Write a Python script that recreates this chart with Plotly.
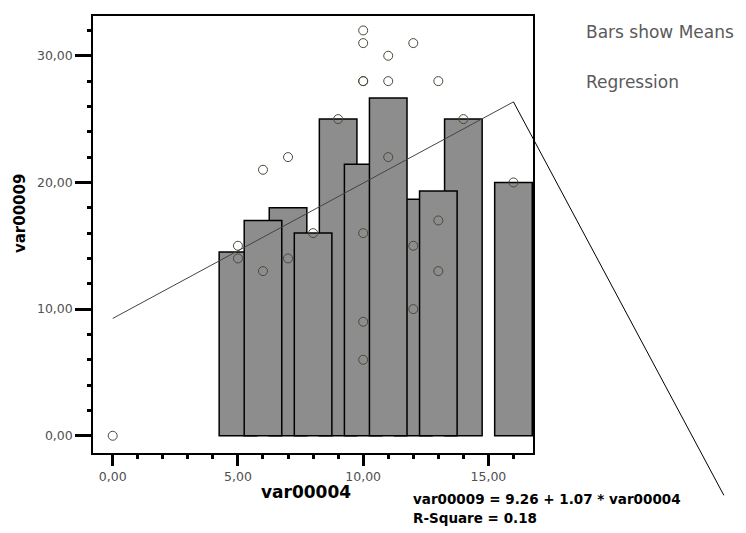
import numpy as np
import plotly.graph_objects as go

# ---------------- data ----------------
x_points = [0, 5, 5, 6, 6, 7, 7, 8, 9, 10, 10, 10, 10, 10, 10, 10,
            11, 11, 11, 12, 12, 12, 13, 13, 13, 14, 16]
y_points = [0, 15, 14, 21, 13, 22, 14, 16, 25, 32, 31, 28, 28, 16, 9, 6,
            30, 28, 22, 31, 15, 10, 28, 17, 13, 25, 20]

# bar categories in the order they are painted (later ones overlap earlier ones)
bar_categories = [5, 7, 9, 12, 14, 6, 8, 10, 11, 13, 16]
bar_width = 1.5

x_tick_values = [0, 5, 10, 15]
y_tick_values = [0, 10, 20, 30]

# odd end point of the regression path drawn by the original software
regression_tail_end = [24.4, -4.7]

x_title = "var00004"
y_title = "var00009"
legend_texts = ["Bars show Means", "Regression"]

# ---------------- derived ----------------
xp = np.array(x_points, dtype=float)
yp = np.array(y_points, dtype=float)
bar_means = [float(yp[xp == c].mean()) for c in bar_categories]

slope, intercept = np.polyfit(xp, yp, 1)
pred = intercept + slope * xp
r2 = 1 - ((yp - pred) ** 2).sum() / ((yp - yp.mean()) ** 2).sum()
reg_x = [float(xp.min()), float(xp.max())]
reg_y = [intercept + slope * v for v in reg_x]

# ---------------- layout geometry (page pixels) ----------------
W, H = 746, 533
OFF = 8                                # default body margin of the html page
L, R, T, B = 93, 533, 14, 453          # plot frame in page pixels
x_range = [-0.787, 16.78]
y_range = [-1.36, 33.14]


def px_x(px):
    return (px - L) / (R - L)


def px_y(py):
    return (B - py) / (B - T)


def data_to_paper(x, y):
    return ((x - x_range[0]) / (x_range[1] - x_range[0]),
            (y - y_range[0]) / (y_range[1] - y_range[0]))


fig = go.Figure()

fig.add_trace(go.Bar(
    x=bar_categories, y=bar_means, width=bar_width,
    marker=dict(color="#8d8d8d", line=dict(color="black", width=1.5)),
    hoverinfo="x+y",
))

fig.add_trace(go.Scatter(
    x=reg_x, y=reg_y, mode="lines",
    line=dict(color="#444444", width=1),
    hoverinfo="skip",
))

fig.add_trace(go.Scatter(
    x=x_points, y=y_points, mode="markers",
    marker=dict(symbol="circle-open", size=9, color="#4a4a3a", line=dict(width=1)),
))

# tail of the regression path, reaching outside the frame
sx, sy = data_to_paper(reg_x[1], reg_y[1])
ex, ey = data_to_paper(*regression_tail_end)
fig.add_shape(type="line", xref="paper", yref="paper", x0=sx, y0=sy, x1=ex, y1=ey,
              line=dict(color="black", width=1))

FONT = "DejaVu Sans, Verdana, sans-serif"
tick_font = dict(family=FONT, size=12.5, color="#505050")

fig.update_xaxes(
    range=x_range, showgrid=False, zeroline=False,
    showline=True, linecolor="black", linewidth=1.5, mirror=True,
    tickvals=x_tick_values, tickformat=".2f",
    ticks="outside", ticklen=11, tickwidth=3, tickcolor="black",
    minor=dict(dtick=1, ticks="outside", ticklen=4, tickwidth=3, tickcolor="black"),
    tickfont=tick_font,
)
fig.update_yaxes(
    range=y_range, showgrid=False, zeroline=False,
    showline=True, linecolor="black", linewidth=1.5, mirror=True,
    tickvals=y_tick_values, tickformat=".2f",
    ticks="outside", ticklen=16, tickwidth=3, tickcolor="black",
    minor=dict(dtick=2, ticks="outside", ticklen=4, tickwidth=3, tickcolor="black"),
    tickfont=tick_font,
)

xtitle_font = dict(family=FONT, size=17, color="black")
ytitle_font = dict(family=FONT, size=15, color="black")
eq_font = dict(family=FONT, size=13.5, color="black")
leg_font = dict(family=FONT, size=17, color="#5a5a5a")

annotations = [
    dict(text=f"<b>{x_title}</b>", x=px_x(306), y=px_y(492), xref="paper", yref="paper",
         showarrow=False, font=xtitle_font, xanchor="center", yanchor="middle"),
    dict(text=f"<b>{y_title}</b>", x=px_x(20), y=px_y(213), xref="paper", yref="paper",
         showarrow=False, font=ytitle_font, textangle=-90, xanchor="center", yanchor="middle"),
    dict(text=f"<b>{y_title} = {intercept:.2f} + {slope:.2f} * {x_title}</b>",
         x=px_x(411), y=px_y(499), xref="paper", yref="paper",
         showarrow=False, font=eq_font, xanchor="left", yanchor="middle"),
    dict(text=f"<b>R-Square = {r2:.2f}</b>",
         x=px_x(411), y=px_y(518), xref="paper", yref="paper",
         showarrow=False, font=eq_font, xanchor="left", yanchor="middle"),
    dict(text=legend_texts[0], x=px_x(584), y=px_y(30), xref="paper", yref="paper",
         showarrow=False, font=leg_font, xanchor="left", yanchor="middle"),
    dict(text=legend_texts[1], x=px_x(584), y=px_y(80), xref="paper", yref="paper",
         showarrow=False, font=leg_font, xanchor="left", yanchor="middle"),
]

fig.update_layout(
    width=W - OFF, height=H - OFF,
    margin=dict(l=L - OFF, r=W - R, t=T - OFF, b=H - B, pad=0),
    paper_bgcolor="white", plot_bgcolor="white",
    showlegend=False, separators=", ",
    annotations=annotations,
)

fig.write_html("out.html")
